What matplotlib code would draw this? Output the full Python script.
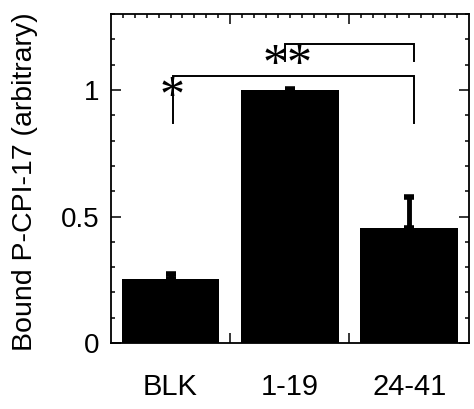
import matplotlib
matplotlib.use("Agg")
from matplotlib import pyplot as plt
from matplotlib.ticker import MultipleLocator, FixedLocator
import numpy as np

plt.rcParams['font.family'] = ['Liberation Sans', 'DejaVu Sans']

groups = ['BLK', '1-19', '24-41']
values = [0.253, 1.0, 0.455]
errors = [0.022, 0.004, 0.122]

# significance brackets: (left x, right x, foot y, top y, label, label x, label baseline y)
brackets = [(0.02, 2.04, 0.87, 1.055, '*', 0.01, 0.92),
            (0.96, 2.04, 1.115, 1.18, '**', 0.98, 1.045)]

fig = plt.figure(figsize=(4.74, 4.09), dpi=100)
ax = fig.add_axes([0.234, 0.161, 0.755, 0.805])

x = np.arange(len(groups))
ax.bar(x, values, width=0.82, color='black', zorder=2)
ax.errorbar(x, values, yerr=[np.zeros(len(errors)), errors], fmt='none',
            ecolor='black', elinewidth=3.5, capsize=3.5, capthick=4, zorder=3)

for x0, x1, yf, yt, lab, lx, ly in brackets:
    ax.plot([x0, x0, x1, x1], [yf, yt, yt, yf], color='black', lw=1.4,
            solid_joinstyle='miter')
    ax.text(lx, ly, lab, ha='center', va='baseline', fontsize=36,
            family=['Liberation Serif', 'DejaVu Serif'])

ax.set_xlim(-0.5, 2.5)
ax.set_ylim(0, 1.3)

ax.xaxis.set_major_locator(FixedLocator([0.5, 1.5]))
ax.xaxis.set_minor_locator(FixedLocator(np.arange(-0.4, 2.45, 0.1)))
ax.set_xticklabels([])
ax.yaxis.set_major_locator(FixedLocator([0, 0.5, 1]))
ax.yaxis.set_minor_locator(MultipleLocator(0.1))
ax.set_yticklabels(['0', '0.5', '1'])

ax.tick_params(which='both', direction='in', top=True, right=True, width=1.1)
ax.tick_params(which='major', length=7, labelsize=20, pad=8)
ax.tick_params(which='minor', length=3)
ax.tick_params(axis='x', which='minor', bottom=False)

for i, g in enumerate(groups):
    ax.text(x[i], -0.174, g, ha='center', va='center', fontsize=21)

for s in ax.spines.values():
    s.set_linewidth(1.3)

ax.set_ylabel('Bound P-CPI-17 (arbitrary)', fontsize=20.5, va='center')
ax.yaxis.set_label_coords(-0.24, 0.49)

fig.savefig('out.png', dpi=100)
